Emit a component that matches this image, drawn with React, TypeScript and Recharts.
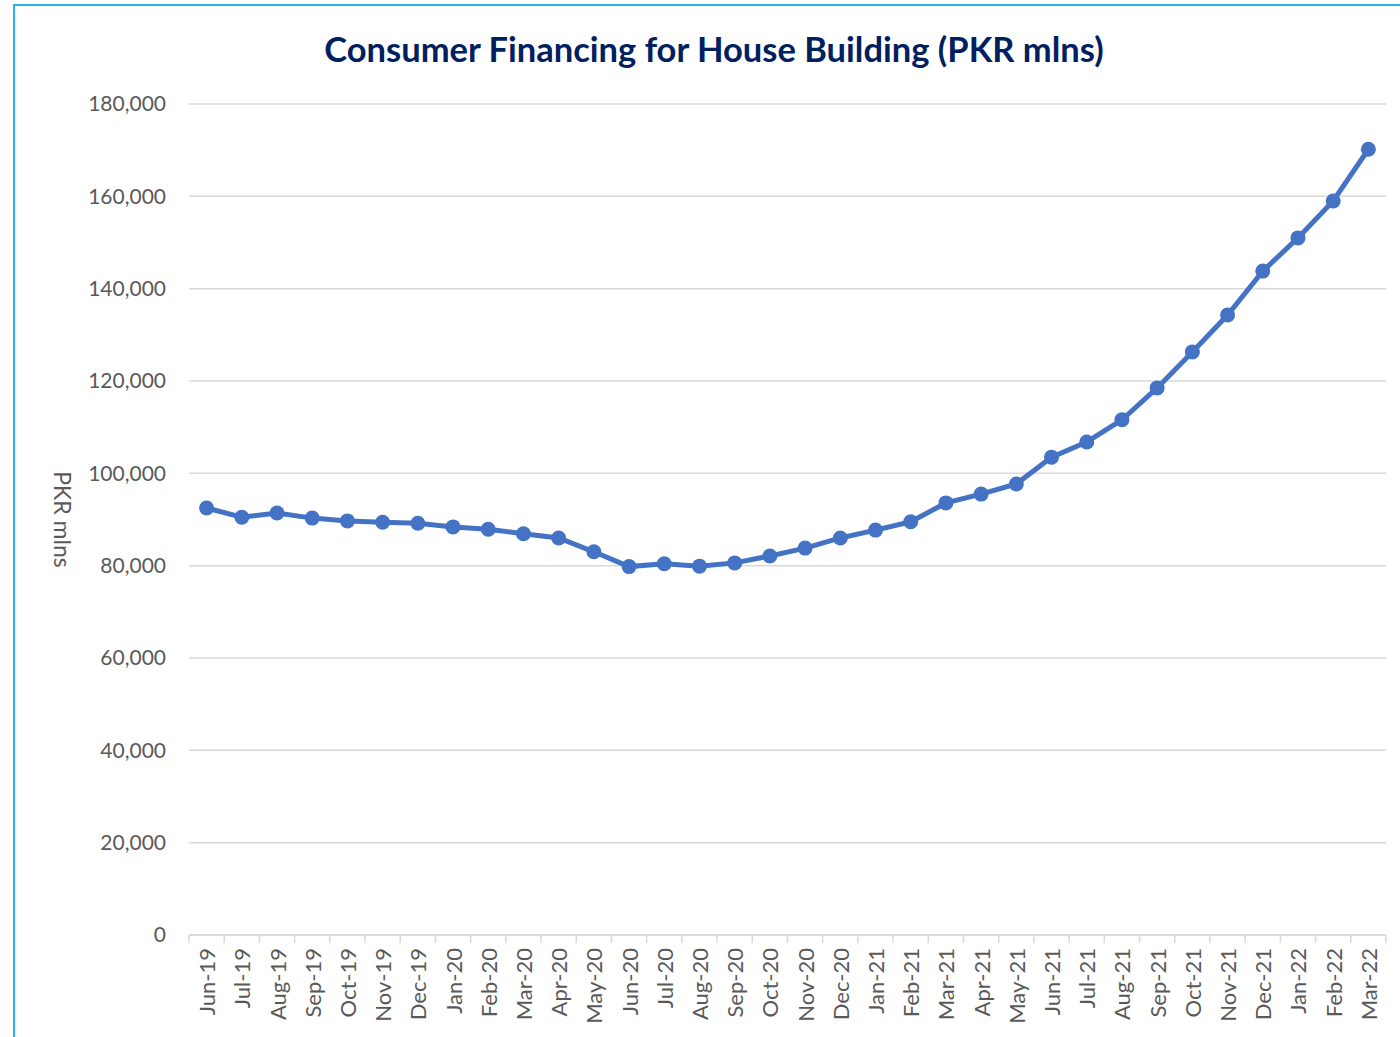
import { LineChart, Line, XAxis, YAxis, CartesianGrid } from 'recharts';

const months = [
    'Jun-19', 'Jul-19', 'Aug-19', 'Sep-19', 'Oct-19', 'Nov-19', 'Dec-19',
    'Jan-20', 'Feb-20', 'Mar-20', 'Apr-20', 'May-20', 'Jun-20', 'Jul-20',
    'Aug-20', 'Sep-20', 'Oct-20', 'Nov-20', 'Dec-20', 'Jan-21', 'Feb-21',
    'Mar-21', 'Apr-21', 'May-21', 'Jun-21', 'Jul-21', 'Aug-21', 'Sep-21',
    'Oct-21', 'Nov-21', 'Dec-21', 'Jan-22', 'Feb-22', 'Mar-22',
];

const financing = [
    92500, 90500, 91400, 90300, 89700, 89400, 89200,
    88400, 87900, 86900, 86000, 83000, 79800, 80400,
    79900, 80600, 82100, 83800, 86000, 87700, 89500,
    93600, 95500, 97700, 103500, 106800, 111600, 118500,
    126300, 134300, 143800, 151000, 159000, 170200,
];

const yTicks = [0, 20000, 40000, 60000, 80000, 100000, 120000, 140000, 160000, 180000];

const data = months.map((m, i) => ({ month: m, value: financing[i] }));

const FONT = 'Lato, "Noto Sans", sans-serif';
const GRID = '#d9d9d9';
const TEXT = '#595959';

// plot area is 1197px wide across 34 months
const STEP = (1400 - 189 - 14) / months.length;

const MonthTick = (props: any) => {
    const { x, y, payload, index } = props;
    const last = index === months.length - 1;
    return (
        <g>
            <line x1={x - STEP / 2} y1={y} x2={x - STEP / 2} y2={y + 8} stroke={GRID} strokeWidth={1.5} />
            {last && <line x1={x + STEP / 2} y1={y} x2={x + STEP / 2} y2={y + 8} stroke={GRID} strokeWidth={1.5} />}
            <text
                transform={`translate(${x},${y + 13}) rotate(-90)`}
                textAnchor="end"
                dominantBaseline="central"
                fill={TEXT}
                fontSize={22}
                fontFamily={FONT}
            >
                {payload.value}
            </text>
        </g>
    );
};

export default function App() {
    return (
        <div style={{ position: 'absolute', left: 0, top: 0, width: 1400, height: 1037, background: '#fff', overflow: 'hidden' }}>
            {/* chart frame */}
            <div style={{ position: 'absolute', left: 13, top: 4, width: 1500, height: 1100, borderLeft: '2px solid #29B5E8', borderTop: '2px solid #29B5E8' }} />
            <div style={{ position: 'absolute', left: 264, top: 27, width: 900, textAlign: 'center', fontFamily: FONT, fontWeight: 700, fontSize: 34.5, lineHeight: '44px', color: '#002060' }}>
                Consumer Financing for House Building (PKR mlns)
            </div>
            <div style={{ position: 'absolute', left: 0, top: 0 }}>
                <LineChart width={1400} height={1037} data={data} margin={{ top: 104, right: 14, bottom: 0, left: 0 }}>
                    <CartesianGrid vertical={false} stroke={GRID} strokeWidth={1.5} />
                    <XAxis
                        dataKey="month"
                        scale="band"
                        interval={0}
                        height={102}
                        tickSize={0}
                        tickMargin={0}
                        stroke={GRID}
                        axisLine={{ stroke: GRID, strokeWidth: 1.5 }}
                        tick={<MonthTick />}
                    />
                    <YAxis
                        domain={[0, 180000]}
                        ticks={yTicks}
                        width={189}
                        axisLine={false}
                        tickLine={false}
                        tickSize={0}
                        tickMargin={23}
                        tick={{ fill: TEXT, fontSize: 21, fontFamily: FONT }}
                        tickFormatter={(v: number) => v.toLocaleString('en-US')}
                        label={{ value: 'PKR mlns', angle: 90, position: 'insideLeft', dx: 57, textAnchor: 'middle', fill: TEXT, fontSize: 23, fontFamily: FONT }}
                    />
                    <Line
                        type="linear"
                        dataKey="value"
                        stroke="#4472C4"
                        strokeWidth={5}
                        dot={{ r: 7.5, fill: '#4472C4', stroke: '#4472C4', strokeWidth: 0 }}
                        isAnimationActive={false}
                    />
                </LineChart>
            </div>
        </div>
    );
}
